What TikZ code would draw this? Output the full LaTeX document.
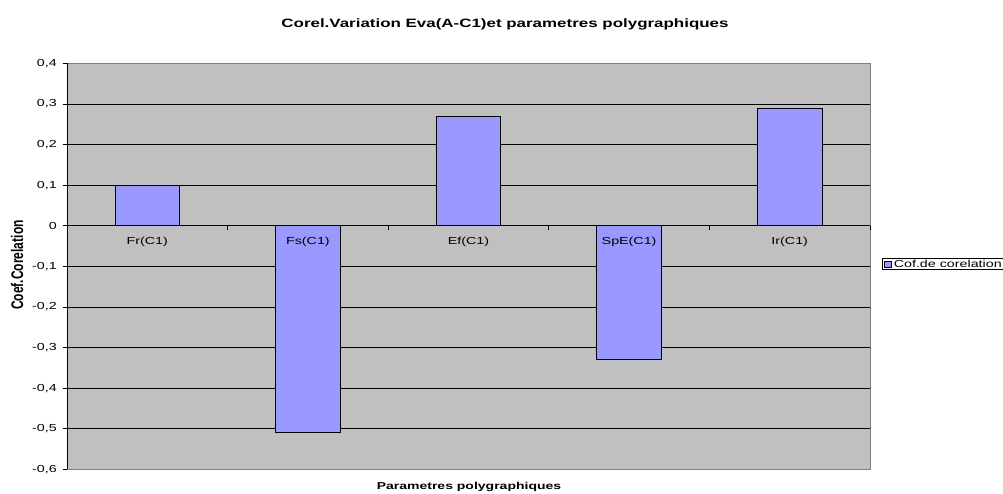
\documentclass[tikz,border=0pt]{standalone}
\usepackage{fontspec}
\setmainfont{Liberation Sans}
\usetikzlibrary{positioning}
\definecolor{plotgray}{RGB}{192,192,192}
\definecolor{barblue}{RGB}{153,153,255}
\definecolor{framegray}{RGB}{128,128,128}
\tikzset{
  bar/.style      = {draw=black, fill=barblue, line width=0.8pt},
  gridline/.style = {draw=black, line width=0.7pt},
  lbl/.style      = {font=\fontsize{10.2}{12}\selectfont, xscale=1.4, inner sep=0pt},
  ttl/.style      = {lbl, font=\bfseries\fontsize{10}{12}\selectfont}
}

\begin{document}
\begin{tikzpicture}[x=1pt, y=-1pt]
  \useasboundingbox (0,0) rectangle (1003,493);
  % plot area
  \fill[plotgray] (67,63.3) rectangle (870,469.3);
  \foreach \k in {-5,...,3}
    \draw[gridline] (67,{225.7-\k*40.6}) -- (870,{225.7-\k*40.6});
  \draw[framegray, line width=0.8pt] (67,63.3) -- (870,63.3) -- (870,469.3) -- (67,469.3);

  % bars and categories
  \foreach \i/\v/\txt in {0/0.1/Fr(C1), 1/-0.51/Fs(C1), 2/0.27/Ef(C1),
                          3/-0.33/SpE(C1), 4/0.29/Ir(C1)} {
    \draw[bar] ({67+(\i+0.5)*160.6-32.3},225.7) rectangle
               ({67+(\i+0.5)*160.6+32.3},{225.7-\v*406});
    \node[lbl] (cat\i) at ({67+(\i+0.5)*160.6},241.5) {\txt};
  }
  \draw[black, line width=0.8pt] (67,225.7) -- (870,225.7);
  \foreach \j in {0,...,5}
    \draw[black, line width=0.7pt] ({67+\j*160.6},225.7) -- ({67+\j*160.6},229.5);

  % value axis
  \draw[black, line width=0.8pt] (67,63.3) -- (67,469.3);
  \foreach \k/\val in {4/{0,4}, 3/{0,3}, 2/{0,2}, 1/{0,1}, 0/0, -1/{-0,1},
                       -2/{-0,2}, -3/{-0,3}, -4/{-0,4}, -5/{-0,5}, -6/{-0,6}} {
    \draw[black, line width=0.7pt] (62.5,{225.7-\k*40.6}) -- (67,{225.7-\k*40.6});
    \node[lbl, anchor=east] (tick\k) at (57,{225.7-\k*40.6}) {\val};
  }

  % titles
  \node[ttl, font=\bfseries\fontsize{12.1}{14}\selectfont, anchor=base]
    (title) at (505,27) {Corel.Variation Eva(A-C1)et parametres polygraphiques};
  \node[ttl, anchor=base] (xtitle) at (469,489.5) {Parametres polygraphiques};
  \node[ttl, font=\bfseries\fontsize{12}{14}\selectfont, rotate=90]
    (ytitle) at (17,265) {Coef.Corelation};

  % legend
  \draw[black, fill=white, line width=0.6pt] (882,258) rectangle (1010,269.5);
  \draw[black, fill=barblue, line width=0.5pt] (884.5,261) rectangle (891.5,267);
  \node[lbl, anchor=west] (leg) at (893.5,264) {Cof.de corelation};
\end{tikzpicture}
\end{document}
